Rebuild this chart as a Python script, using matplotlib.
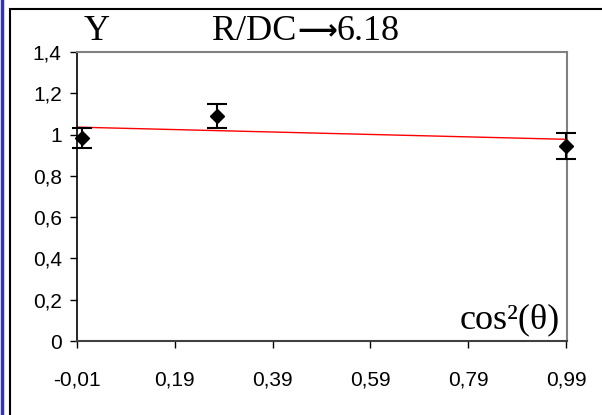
import matplotlib.pyplot as plt
from matplotlib.patches import Rectangle
from matplotlib.lines import Line2D
from matplotlib.ticker import FuncFormatter

# measured points
x_pts = [0.0, 0.276, 0.99]
y_pts = [0.983, 1.09, 0.945]
y_err = [0.05, 0.058, 0.063]

# fitted line
fit_x = [-0.01, 0.99]
fit_y = [1.036, 0.977]

x_ticks = [-0.01, 0.19, 0.39, 0.59, 0.79, 0.99]
y_ticks = [0, 0.2, 0.4, 0.6, 0.8, 1.0, 1.2, 1.4]

fig = plt.figure(figsize=(6.02, 4.15), dpi=100)
W, H = 602, 415
ax = fig.add_axes([77 / W, 1 - 341 / H, (567 - 77) / W, (341 - 52) / H])

ax.plot(fit_x, fit_y, color="red", lw=1, zorder=2)
ax.errorbar(x_pts, y_pts, yerr=y_err, fmt="D", color="black", ms=7,
            ecolor="black", elinewidth=1.5, capsize=7, capthick=1.5,
            clip_on=False, zorder=3)

ax.set_xlim(-0.01, 0.992)
ax.set_ylim(0, 1.4)
ax.set_xticks(x_ticks)
ax.set_yticks(y_ticks)
ax.xaxis.set_major_formatter(FuncFormatter(lambda v, p: ("%.2f" % v).replace(".", ",")))
ax.yaxis.set_major_formatter(FuncFormatter(lambda v, p: ("%g" % round(v, 1)).replace(".", ",")))
ax.tick_params(axis="both", labelsize=15, length=5, width=1, direction="out",
               pad=6)
ax.tick_params(axis="x", pad=16)
for lab in ax.get_xticklabels() + ax.get_yticklabels():
    lab.set_family("Liberation Sans")

ax.spines["left"].set_color("black")
ax.spines["bottom"].set_color("#404040")
ax.spines["bottom"].set_linewidth(1.5)
ax.spines["left"].set_linewidth(1.2)
ax.spines["top"].set_color("gray")
ax.spines["right"].set_color("gray")
ax.spines["top"].set_linewidth(1.5)
ax.spines["right"].set_linewidth(1.5)

serif = ["Liberation Serif", "DejaVu Serif"]
fig.text(97 / W, 1 - 32 / H, "Y", fontsize=26, family=serif,
         ha="center", va="center")
fig.text(212 / W, 1 - 32 / H, "R/DC", fontsize=26, family=serif,
         ha="left", va="center")
fig.text(297 / W, 1 - 31 / H, "\u27f6", fontsize=20, family="DejaVu Sans",
         ha="left", va="center", fontweight="bold")
fig.text(337 / W, 1 - 32 / H, "6.18", fontsize=26, family=serif,
         ha="left", va="center")
ax.text(0.985, 0.015, "cos\u00b2(\u03b8)", transform=ax.transAxes, fontsize=26,
        family=serif, ha="right", va="bottom")

# outer frame and blue edge
fig.add_artist(Rectangle((10 / W, -0.1), 1.0, 1 - 9 / H + 0.1,
                         transform=fig.transFigure, fill=False,
                         edgecolor="black", lw=1.5))
fig.add_artist(Line2D([2 / W, 2 / W], [0, 1], transform=fig.transFigure,
                      color="#3030d0", lw=2.5))

fig.savefig("out.png", dpi=100)
